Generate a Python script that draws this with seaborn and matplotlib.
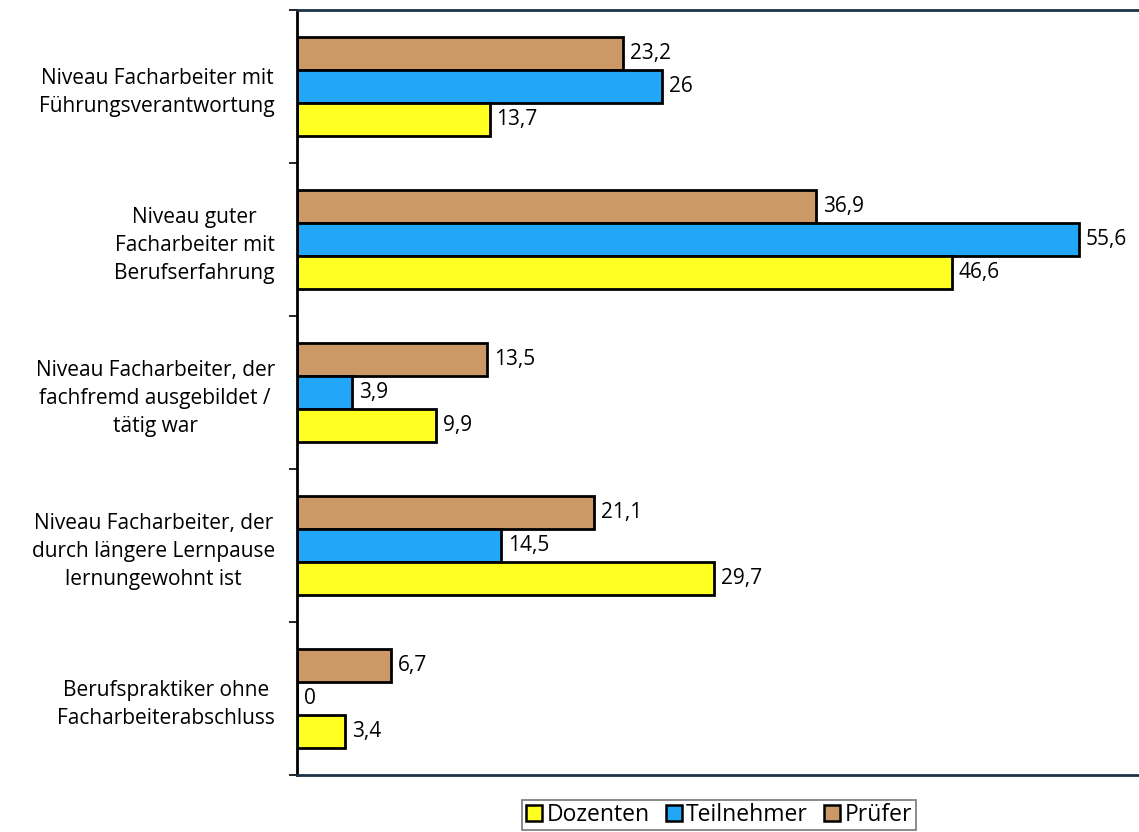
import matplotlib
matplotlib.use("Agg")
import matplotlib.pyplot as plt
import seaborn as sns
import pandas as pd
from matplotlib.patches import Patch

categories = [
    "Niveau Facharbeiter mit\nFührungsverantwortung",
    "Niveau guter\nFacharbeiter mit\nBerufserfahrung",
    "Niveau Facharbeiter, der\nfachfremd ausgebildet /\ntätig war",
    "Niveau Facharbeiter, der\ndurch längere Lernpause\nlernungewohnt ist",
    "Berufspraktiker ohne\nFacharbeiterabschluss",
]
series_names = ["Prüfer", "Teilnehmer", "Dozenten"]
pruefer = [23.2, 36.9, 13.5, 21.1, 6.7]
teilnehmer = [26, 55.6, 3.9, 14.5, 0]
dozenten = [13.7, 46.6, 9.9, 29.7, 3.4]
legend_order = ["Dozenten", "Teilnehmer", "Prüfer"]

colors = {"Prüfer": "#CC9966", "Teilnehmer": "#22A6F7", "Dozenten": "#FFFF22"}

rows = []
for name, vals in zip(series_names, [pruefer, teilnehmer, dozenten]):
    for c, v in zip(categories, vals):
        rows.append({"Kategorie": c, "Gruppe": name, "Wert": v})
df = pd.DataFrame(rows)

sns.set_style("white")
plt.rcParams["font.family"] = ["Open Sans", "DejaVu Sans"]
plt.rcParams["text.color"] = "black"

fig = plt.figure(figsize=(11.39, 8.32), dpi=100)
ax = fig.add_axes([297 / 1139, 1 - 775 / 832, 1 - 297 / 1139, (775 - 10) / 832])

sns.barplot(data=df, y="Kategorie", x="Wert", hue="Gruppe", hue_order=series_names,
            order=categories, orient="h", palette=colors, width=0.65,
            edgecolor="black", linewidth=2, saturation=1, ax=ax, legend=False)

for cont in ax.containers:
    labels = [f"{r.get_width():g}".replace(".", ",") for r in cont]
    ax.bar_label(cont, labels=labels, padding=5, fontsize=15, color="black")

ax.set_xlim(0, 59.9)
ax.set_ylim(4.5, -0.5)
ax.set_xlabel("")
ax.set_ylabel("")
ax.set_xticks([])
ax.set_yticks(range(len(categories)))
ax.set_yticklabels(categories, multialignment="center", fontsize=15, color="black",
                   linespacing=1.45)
ax.tick_params(axis="y", which="major", left=False, length=0, pad=16)
ax.set_yticks([i - 0.5 for i in range(len(categories) + 1)], minor=True)
ax.tick_params(axis="y", which="minor", left=True, length=6, width=1.2,
               color="black", direction="out")

for s in ["top", "bottom"]:
    ax.spines[s].set_color("#1d3349")
    ax.spines[s].set_linewidth(2)
ax.spines["left"].set_color("black")
ax.spines["left"].set_linewidth(2)
ax.spines["right"].set_visible(False)

handles = [Patch(facecolor=colors[n], edgecolor="black", linewidth=1.8) for n in legend_order]
leg = fig.legend(handles, legend_order, loc="center", bbox_to_anchor=(719 / 1139, 1 - 815 / 832),
                 ncol=3, frameon=True, fancybox=False, handlelength=0.7, handleheight=0.7,
                 handletextpad=0.2, columnspacing=0.7, borderpad=0.15, borderaxespad=0.2,
                 fontsize=16.5)
leg.get_frame().set_edgecolor("#555555")
leg.get_frame().set_linewidth(1.2)
for t in leg.get_texts():
    t.set_color("black")

fig.savefig("out.png", dpi=100)
